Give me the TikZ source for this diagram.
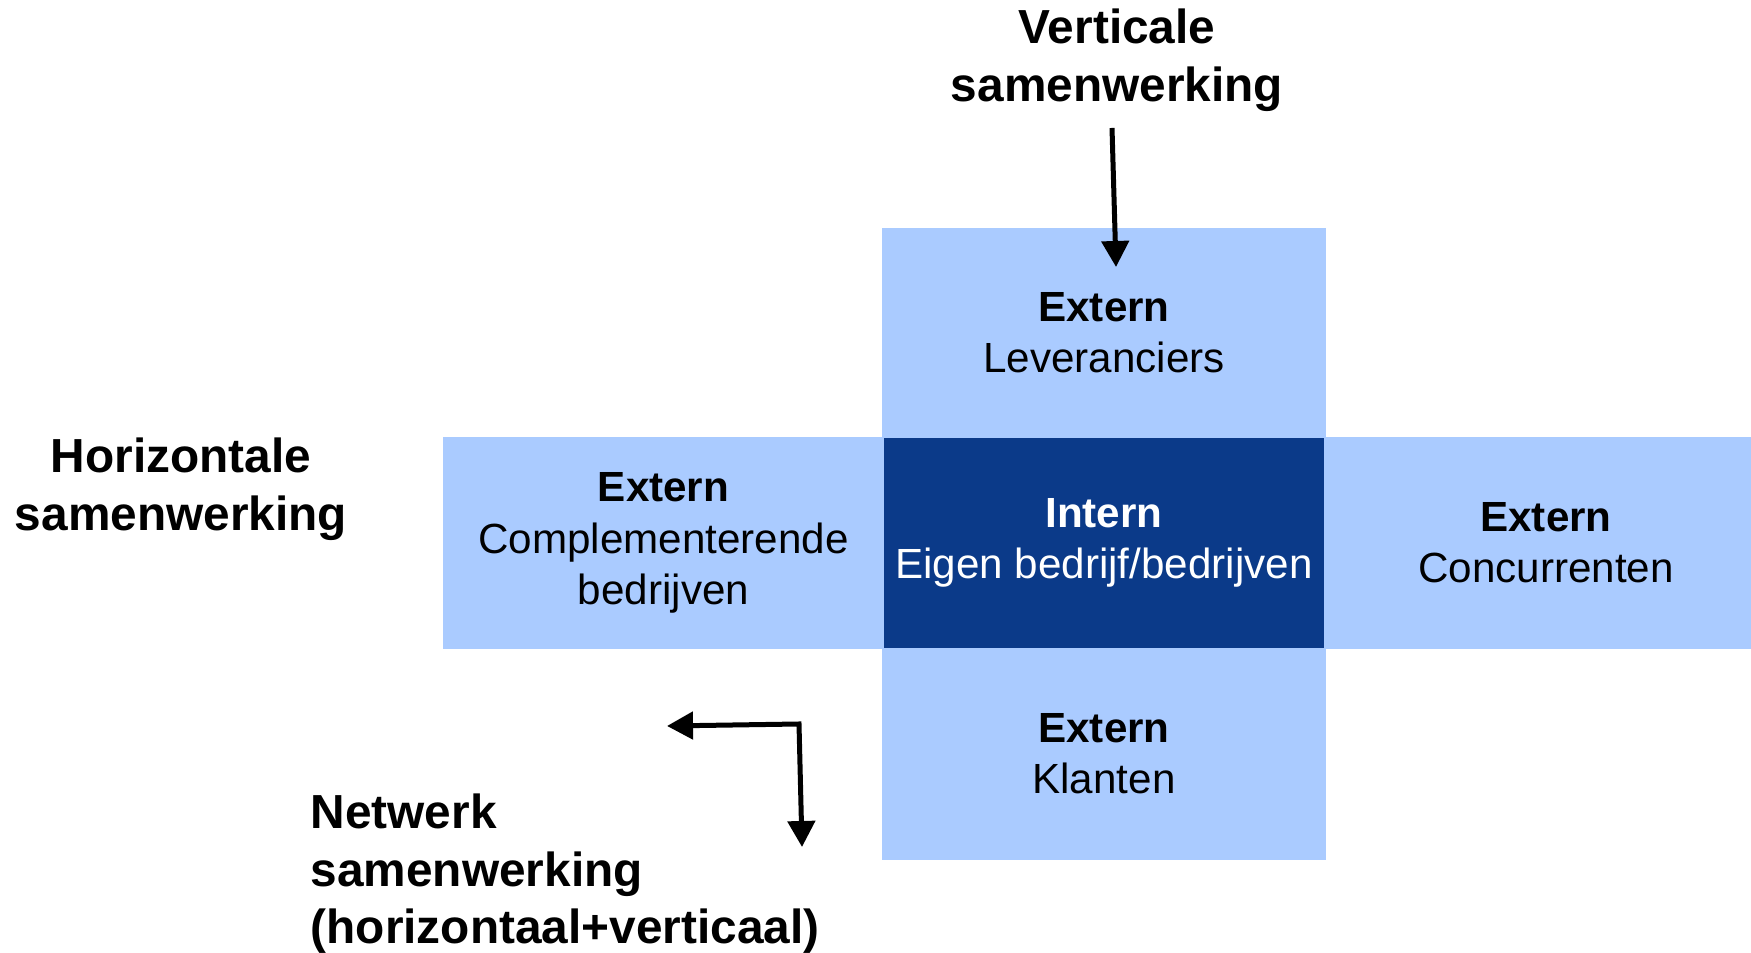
\documentclass[tikz,border=0pt]{standalone}
\usepackage{fontspec}
\setmainfont{Liberation Sans}
\usetikzlibrary{arrows.meta,positioning}
\definecolor{cellblue}{HTML}{AACBFF}
\definecolor{coreblue}{HTML}{0B3A89}
\tikzset{bigtri/.tip={Triangle[width=2.7mm,length=2.6mm]}}

\begin{document}
\begin{tikzpicture}[x=0.1mm,y=-0.1mm,
  cell/.style={fill=cellblue,draw=cellblue,line width=0.4pt,minimum width=44.2mm,minimum height=21.1mm,inner sep=0pt,outer sep=0pt,align=center,font=\fontsize{12}{14.6}\selectfont},
  core/.style={cell,fill=coreblue,draw=coreblue,text=white},
  title/.style={font=\fontsize{13.6}{16.4}\selectfont\bfseries,inner sep=0pt},
  arr/.style={-bigtri,line width=0.5mm},
  biarr/.style={bigtri-bigtri,line width=0.5mm}]
  \useasboundingbox (0,0) rectangle (1751,953);

  % cross of cells
  \node[core] (intern) at (1104,543) {\textbf{Intern}\\Eigen bedrijf/bedrijven};
  \node[cell,above=0pt of intern,minimum height=20.9mm] (lever) {\textbf{Extern}\\Leveranciers};
  \node[cell,below=0pt of intern] (klant) {\textbf{Extern}\\Klanten};
  \node[cell,left=0pt of intern,minimum width=43.9mm] (compl) {\textbf{Extern}\\Complementerende\\bedrijven};
  \node[cell,right=0pt of intern] (conc) {\textbf{Extern}\\Concurrenten};

  % titles
  \node[title,align=center] (vert) at (1117,60) {Verticale\\samenwerking};
  \node[title,align=center] (horiz) at (181,489) {Horizontale\\samenwerking};
  \node[title,align=left,anchor=west] (netw) at (310,874) {Netwerk\\samenwerking\\(horizontaal+verticaal)};

  % arrows
  \coordinate (vstart) at (1112,128);
  \coordinate (vtip) at (1116,267);
  \draw[arr] (vstart) -- (vtip);

  \coordinate (nleft) at (667,726);
  \coordinate (ncorner) at (799,724);
  \coordinate (ndown) at (802,847);
  \draw[biarr] (nleft) -- (ncorner) -- (ndown);
\end{tikzpicture}
\end{document}
